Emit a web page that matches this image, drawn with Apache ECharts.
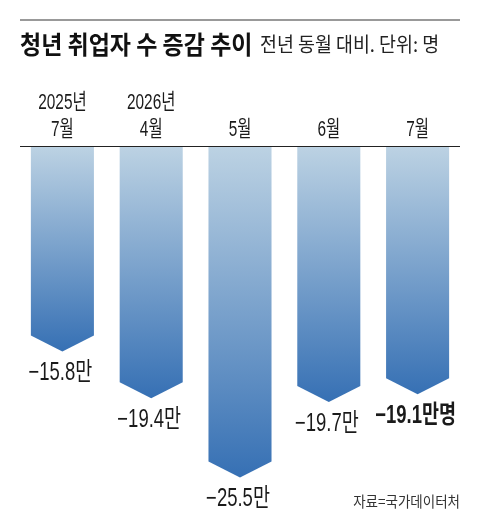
<!DOCTYPE html>
<html>
<head>
<meta charset="utf-8">
<style>
html, body { margin: 0; padding: 0; background: #fff; }
#chart { width: 480px; height: 530px; }
</style>
<script src="https://cdn.jsdelivr.net/npm/echarts@6/dist/echarts.min.js"></script>
</head>
<body>
<div id="chart"></div>
<script>
var categories = ['2025년\n7월', '2026년\n4월', '5월', '6월', '7월'];
var values = [-15.8, -19.4, -25.5, -19.7, -19.1];
var valueLabels = ['−15.8만', '−19.4만', '−25.5만', '−19.7만', '−19.1만명'];
var titleText = '청년 취업자 수 증감 추이';
var subtitleText = '전년 동월 대비. 단위: 명';
var sourceText = '자료=국가데이터처';

var FONT = '"Liberation Sans", "Noto Sans CJK KR", sans-serif';
var KR = '"Noto Sans CJK KR", sans-serif';
var lastIndex = values.length - 1;

var myChart = echarts.init(document.getElementById('chart'));

function renderBar(params, api) {
    var i = api.value(0);
    var top = api.coord([i, 0]);
    var tip = api.coord([i, api.value(1)]);
    var w = api.size([1, 0])[0] * 0.71;
    var cx = top[0];
    var bold = i === lastIndex;
    return {
        type: 'group',
        children: [{
            type: 'polygon',
            shape: {
                points: [
                    [cx - w / 2, top[1] + 1],
                    [cx + w / 2, top[1] + 1],
                    [cx + w / 2, tip[1] - 16],
                    [cx, tip[1]],
                    [cx - w / 2, tip[1] - 16]
                ]
            },
            style: {
                fill: new echarts.graphic.LinearGradient(0, 0, 0, 1, [
                    {offset: 0, color: '#bcd2e3'},
                    {offset: 1, color: '#3670b4'}
                ])
            }
        }, {
            type: 'text',
            x: cx - 2,
            y: tip[1] + 22,
            scaleX: 0.74,
            style: {
                text: valueLabels[i],
                fontFamily: FONT,
                fontSize: 25,
                fontWeight: bold ? 'bold' : 'normal',
                fill: '#1a1a1a',
                align: 'center',
                verticalAlign: 'middle'
            }
        }, {
            type: 'text',
            x: cx,
            y: top[1] - 3,
            scaleX: 0.7,
            style: {
                text: categories[i],
                fontFamily: FONT,
                fontSize: 22,
                lineHeight: 27,
                fill: '#1a1a1a',
                align: 'center',
                verticalAlign: 'bottom'
            }
        }]
    };
}

var option = {
    animation: false,
    backgroundColor: '#fff',
    grid: {left: 18, width: 444, top: 146, height: 364},
    xAxis: {
        type: 'category',
        position: 'top',
        data: categories,
        axisLine: {show: false},
        axisTick: {show: false},
        axisLabel: {show: false}
    },
    yAxis: {
        type: 'value',
        min: -28,
        max: 0,
        show: false
    },
    series: [{
        type: 'custom',
        renderItem: renderBar,
        encode: {x: 0, y: 1},
        data: values.map(function (v, i) { return [i, v]; })
    }],
    graphic: [
        {type: 'rect', shape: {x: 20, y: 19, width: 440, height: 2}, style: {fill: '#999'}},
        {type: 'rect', shape: {x: 20, y: 146, width: 440, height: 1}, style: {fill: '#222'}},
        {
            type: 'text', x: 20, y: 44, scaleX: 0.92,
            style: {text: titleText, fontFamily: KR, fontSize: 25, fontWeight: 'bold', fill: '#111', align: 'left', verticalAlign: 'middle'}
        },
        {
            type: 'text', x: 260, y: 44, scaleX: 0.92,
            style: {text: subtitleText, fontFamily: KR, fontSize: 20, fill: '#222', align: 'left', verticalAlign: 'middle'}
        },
        {
            type: 'text', x: 460, y: 501, scaleX: 0.9,
            style: {text: sourceText, fontFamily: KR, fontSize: 15, fill: '#333', align: 'right', verticalAlign: 'middle'}
        }
    ]
};
myChart.setOption(option);
</script>
</body>
</html>
